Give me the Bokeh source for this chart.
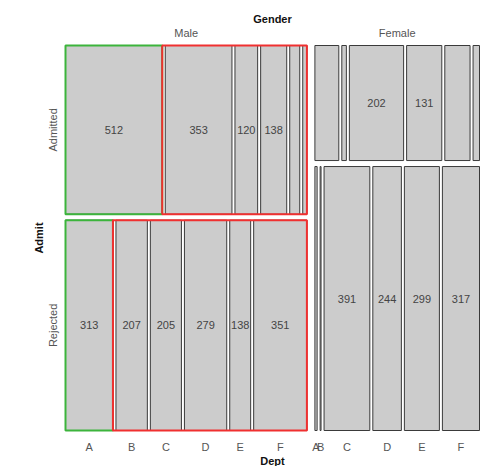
from bokeh.plotting import figure
from bokeh.models import Range1d
from bokeh.embed import file_html
from bokeh.resources import INLINE
from bokeh.core.properties import value
import math

genders = ["Male", "Female"]
admits = ["Admitted", "Rejected"]
depts = ["A", "B", "C", "D", "E", "F"]
male_admitted = [512, 353, 120, 138, 53, 22]
male_rejected = [313, 207, 205, 279, 138, 351]
female_admitted = [89, 17, 202, 131, 94, 24]
female_rejected = [19, 8, 391, 244, 299, 317]
# which cell counts are printed in the reference
male_admitted_shown = [True, True, True, True, False, False]
male_rejected_shown = [True, True, True, True, True, True]
female_admitted_shown = [False, False, True, True, False, False]
female_rejected_shown = [False, False, True, True, True, True]

counts = {("Male", "Admitted"): male_admitted, ("Male", "Rejected"): male_rejected,
          ("Female", "Admitted"): female_admitted, ("Female", "Rejected"): female_rejected}
shown = {("Male", "Admitted"): male_admitted_shown, ("Male", "Rejected"): male_rejected_shown,
         ("Female", "Admitted"): female_admitted_shown, ("Female", "Rejected"): female_rejected_shown}

# layout (screen pixel space)
X0, X1, Y0, Y1 = 65.0, 479.0, 45.0, 430.0
GAP_G, GAP_A, GAP_D = 8.0, 6.0, 3.0
FONT = value("Liberation Sans")

p = figure(width=487, height=466, output_backend="svg", toolbar_location=None,
           x_range=Range1d(0, 487), y_range=Range1d(466, 0), min_border=0)
p.axis.visible = False
p.grid.visible = False
p.outline_line_color = None
p.background_fill_color = "white"

gtot = {g: sum(counts[(g, "Admitted")]) + sum(counts[(g, "Rejected")]) for g in genders}
total = sum(gtot.values())
wavail = (X1 - X0) - GAP_G * (len(genders) - 1)

L, R, T, B = [], [], [], []
tx, ty, tt = [], [], []
dx, dy, dt = [], [], []
group_boxes = []
gx = X0
for g in genders:
    gw = wavail * gtot[g] / total
    p.text(x=[gx + gw / 2], y=[32], text=[g], text_font=FONT, text_font_size="11px",
           text_color="#555555", text_align="center", text_baseline="middle")
    havail = (Y1 - Y0) - GAP_A
    y = Y0
    for a in admits:
        c = counts[(g, a)]
        ah = havail * sum(c) / gtot[g]
        davail = gw - GAP_D * (len(depts) - 1)
        x = gx
        cells = []
        for i, d in enumerate(depts):
            w = davail * c[i] / sum(c)
            L.append(x); R.append(x + w); T.append(y); B.append(y + ah)
            cells.append((x, x + w))
            if shown[(g, a)][i]:
                tx.append(x + w / 2); ty.append(y + ah / 2); tt.append(str(c[i]))
            if a == "Rejected":
                dx.append(x + w / 2); dy.append(446); dt.append(d)
            x += w + GAP_D
        if g == "Male":
            group_boxes.append(("#3cb43c", cells[0][0], cells[0][1], y, y + ah))
            group_boxes.append(("#f03030", cells[0][1], cells[-1][1], y, y + ah))
            p.text(x=[52], y=[y + ah / 2], text=[a], angle=math.pi / 2, text_font=FONT,
                   text_font_size="11px", text_color="#555555", text_align="center",
                   text_baseline="middle")
        y += ah + GAP_A
    gx += gw + GAP_G

p.quad(left=L, right=R, top=T, bottom=B, fill_color="#cccccc", line_color="#3a3a3a",
       line_width=1)
for col, l, r, t, b in group_boxes:
    p.quad(left=[l], right=[r], top=[t], bottom=[b], fill_color=None, line_color=col,
           line_width=2)

p.text(x=tx, y=ty, text=tt, text_font=FONT, text_font_size="11px", text_color="#444444",
       text_align="center", text_baseline="middle")
p.text(x=dx, y=dy, text=dt, text_font=FONT, text_font_size="11px", text_color="#555555",
       text_align="center", text_baseline="middle")

p.text(x=[(X0 + X1) / 2], y=[18], text=["Gender"], text_font=FONT, text_font_size="11px",
       text_font_style="bold", text_color="#111111", text_align="center", text_baseline="middle")
p.text(x=[(X0 + X1) / 2], y=[460], text=["Dept"], text_font=FONT, text_font_size="11px",
       text_font_style="bold", text_color="#111111", text_align="center", text_baseline="middle")
p.text(x=[38], y=[(Y0 + Y1) / 2], text=["Admit"], angle=math.pi / 2, text_font=FONT,
       text_font_size="11px", text_font_style="bold", text_color="#111111",
       text_align="center", text_baseline="middle")

open("out.html", "w").write(file_html(p, INLINE))
